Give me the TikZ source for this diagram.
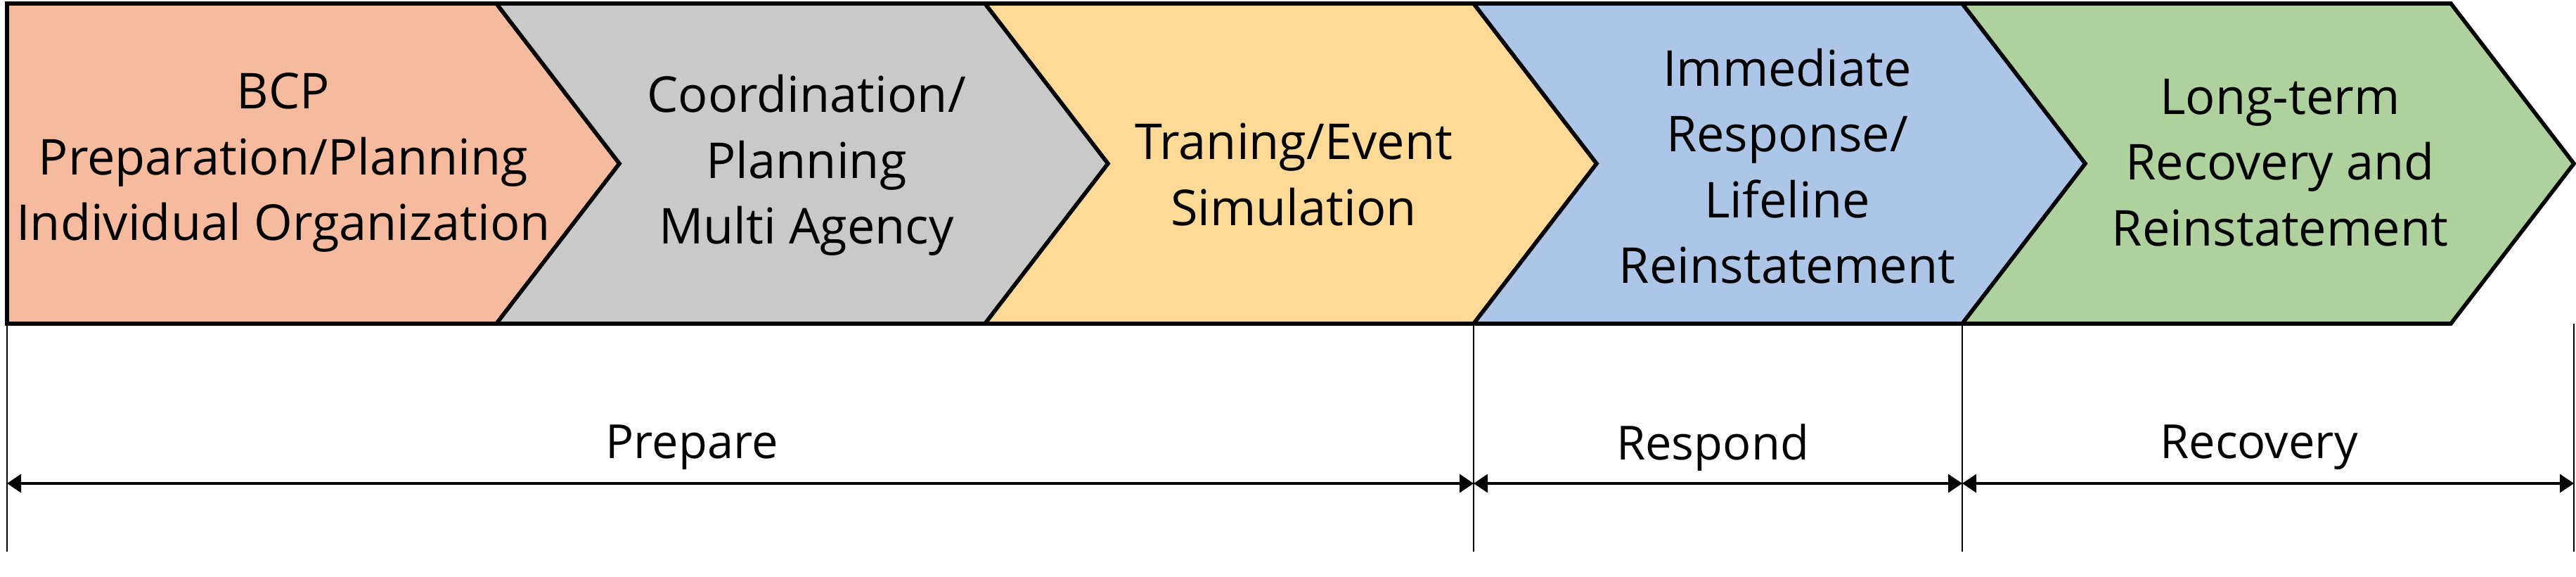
\documentclass[tikz,border=0pt]{standalone}
\usepackage{fontspec}
\setmainfont{Open Sans}
\usepackage{tikz}
\usetikzlibrary{
  arrows.meta,
  calc
}
\definecolor{phPlan}{HTML}{F6BA9E}
\definecolor{phCoord}{HTML}{C9C9C9}
\definecolor{phTrain}{HTML}{FFDA97}
\definecolor{phResp}{HTML}{ADC6E7}
\definecolor{phRecov}{HTML}{AED19E}
\tikzset{
  chevron/.style={draw=black, line width=1.6pt, line join=miter},
  phtext/.style={font=\fontsize{20}{26.6}\selectfont, align=center, inner sep=0pt},
  divider/.style={line width=0.8pt, black},
  spanarrow/.style={{Triangle[length=2mm, width=2.6mm]}-{Triangle[length=2mm, width=2.6mm]}, line width=0.9pt},
  spantext/.style={font=\fontsize{19}{23}\selectfont, inner sep=0pt}
}

\begin{document}
\begin{tikzpicture}
  \useasboundingbox (0,0) rectangle (36.64,-8.2);
  % phase chevrons
  \draw[chevron, fill=phPlan] (0.10,-0.05) -- (7.06,-0.05) -- (8.81,-2.325) -- (7.06,-4.60) -- (0.10,-4.60) -- cycle;
  \foreach \i/\col in {1/phCoord, 2/phTrain, 3/phResp, 4/phRecov}{
    \pgfmathsetmacro{\xl}{7.06+6.95*(\i-1)}
    \pgfmathsetmacro{\xr}{7.06+6.95*\i}
    \draw[chevron, fill=\col] (\xl,-0.05) -- (\xr,-0.05) -- (\xr+1.75,-2.325) -- (\xr,-4.60)
      -- (\xl,-4.60) -- (\xl+1.75,-2.325) -- cycle;
  }
  \node[phtext] (bcp) at (4.03,-2.31) {BCP\\Preparation/Planning\\Individual Organization};
  \node[phtext] (coord) at (11.47,-2.35) {Coordination/\\Planning\\Multi Agency};
  \node[phtext] (train) at (18.40,-2.48) {Traning/Event\\Simulation};
  \node[phtext] (resp) at (25.42,-2.36) {Immediate\\Response/\\Lifeline\\Reinstatement};
  \node[phtext] (recov) at (32.43,-2.31) {Long-term\\Recovery and\\Reinstatement};
  % dividers and spans
  \foreach \n/\x in {0/0.10, 1/20.96, 2/27.91, 3/36.61}{
    \coordinate (top\n) at (\x,-4.60);
    \coordinate (bot\n) at (\x,-7.84);
    \coordinate (mid\n) at (\x,-6.87);
    \draw[divider] (top\n) -- (bot\n);
  }
  \draw[spanarrow] (mid0) -- (mid1);
  \draw[spanarrow] (mid1) -- (mid2);
  \draw[spanarrow] (mid2) -- (mid3);
  \node[spantext] (prep) at (9.84,-6.36) {Prepare};
  \node[spantext] (respond) at (24.36,-6.36) {Respond};
  \node[spantext] (recovery) at (32.13,-6.36) {Recovery};
\end{tikzpicture}
\end{document}
